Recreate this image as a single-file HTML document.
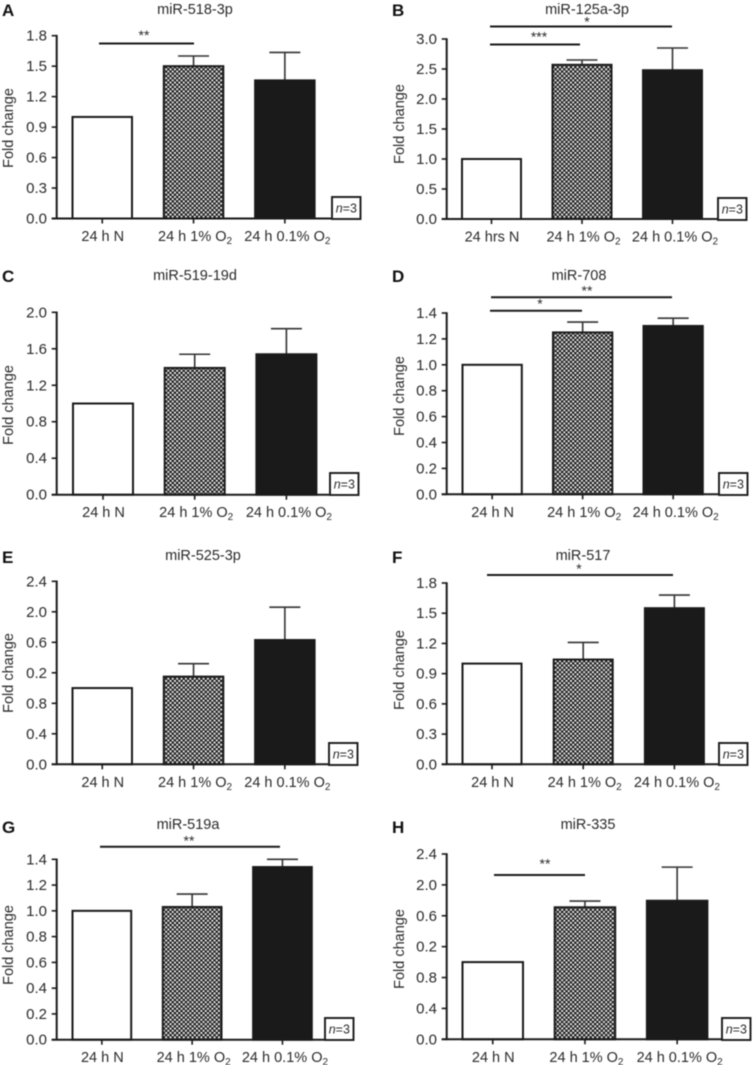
<!DOCTYPE html>
<html lang="en">
<head>
<meta charset="utf-8">
<title>miRNA fold change panels</title>
<style>
html,body{margin:0;padding:0;background:#fff;}
svg{display:block;filter:blur(0.45px);}
text{font-family:"Liberation Sans",Arial,sans-serif;fill:#2a2a2a;}
</style>
</head>
<body>
<svg id="figure" xmlns="http://www.w3.org/2000/svg" width="753" height="1065" viewBox="0 0 753 1065">
  <defs>
    <pattern id="checker" patternUnits="userSpaceOnUse" width="4.4" height="4.4">
      <rect width="4.4" height="4.4" fill="#1c1c1c"></rect>
      <rect x="0.2" y="0.2" width="1.9" height="1.9" fill="#fff"></rect>
      <rect x="2.4" y="2.4" width="1.9" height="1.9" fill="#fff"></rect>
    </pattern>
  </defs>
</svg>
<script>
// ---- Chart values, one array per panel quantity ----
const panelLetters = ["A","B","C","D","E","F","G","H"];
const panelTitles = ["miR-518-3p","miR-125a-3p","miR-519-19d","miR-708","miR-525-3p","miR-517","miR-519a","miR-335"];
const firstCategoryLabels = ["24 h N","24 hrs N","24 h N","24 h N","24 h N","24 h N","24 h N","24 h N"];
const categoryLabelStems = ["24 h 1% O","24 h 0.1% O"];
const axisMaxima = [1.8,3.0,2.0,1.4,2.4,1.8,1.4,2.4];
const means1 = [1,1,1,1,1,1,1,1];
const means2 = [1.5,2.57,1.39,1.25,1.15,1.04,1.03,1.71];
const means3 = [1.36,2.48,1.54,1.3,1.63,1.55,1.34,1.795];
const errorTops2 = [1.6,2.65,1.54,1.33,1.32,1.21,1.13,1.79];
const errorTops3 = [1.635,2.85,1.82,1.36,2.06,1.68,1.40,2.23];
const tickValues = [
  [0,0.3,0.6,0.9,1.2,1.5,1.8],
  [0,0.5,1,1.5,2,2.5,3],
  [0,0.4,0.8,1.2,1.6,2],
  [0,0.2,0.4,0.6,0.8,1,1.2,1.4],
  [0,0.4,0.8,1.2,1.6,2,2.4],
  [0,0.3,0.6,0.9,1.2,1.5,1.8],
  [0,0.2,0.4,0.6,0.8,1,1.2,1.4],
  [0,0.4,0.8,1.2,1.6,2,2.4]
];
const tickLabels = [
  ["0.0","0.3","0.6","0.9","1.2","1.5","1.8"],
  ["0.0","0.5","1.0","1.5","2.0","2.5","3.0"],
  ["0.0","0.4","0.8","1.2","1.6","2.0"],
  ["0.0","0.2","0.4","0.6","0.8","1.0","1.2","1.4"],
  ["0.0","0.4","0.8","0.2","0.6","2.0","2.4"],
  ["0.0","0.3","0.6","0.9","1.2","1.5","1.8"],
  ["0.0","0.2","0.4","0.6","0.8","1.0","1.2","1.4"],
  ["0.0","0.4","0.8","0.2","0.6","2.0","2.4"]
];
const significanceStars = [["**"],["*","***"],[],["**","*"],[],["*"],["**"],["**"]];

// ---- Layout frames (not data) ----
const frames = [
  {ax:56.7, base:218.5, top:35.7, x0:71.5, step:91.3, w:61.5, xEnd:331, nX:331, nY:196, titleX:195, titleY:14, letterX:2, letterY:16, foldY:128},
  {ax:446.7, base:219, top:39, x0:461, step:90.5, w:61, xEnd:717, nX:717, nY:197, titleX:587, titleY:14, letterX:392, letterY:16, foldY:124},
  {ax:56.7, base:494.7, top:312.3, x0:72, step:91.7, w:62, xEnd:329, nX:329, nY:472, titleX:195, titleY:280, letterX:2, letterY:282, foldY:405},
  {ax:446.7, base:494.3, top:313, x0:461.5, step:90.5, w:61.3, xEnd:718, nX:718, nY:472, titleX:579, titleY:280, letterX:392, letterY:282, foldY:396},
  {ax:56.7, base:764.3, top:581.3, x0:71.5, step:91.3, w:61.5, xEnd:328, nX:328, nY:742, titleX:203, titleY:560, letterX:2, letterY:563, foldY:673},
  {ax:446.7, base:764.3, top:583, x0:461.5, step:91.2, w:61, xEnd:718, nX:718, nY:742, titleX:583, titleY:560, letterX:392, letterY:563, foldY:670},
  {ax:56.7, base:1039.7, top:859.3, x0:71.5, step:90.3, w:60.7, xEnd:324, nX:324, nY:1017, titleX:188, titleY:829, letterX:2, letterY:833, foldY:945},
  {ax:446.7, base:1039.3, top:854, x0:461.5, step:92.2, w:62.5, xEnd:721, nX:721, nY:1017, titleX:588, titleY:829, letterX:392, letterY:833, foldY:949}
];
const bracketFrames = [
  [{x1:99,x2:194,y:43.5,sx:144,sy:34.5}],
  [{x1:490,x2:672,y:26.5,sx:587,sy:21},{x1:490,x2:580,y:44.5,sx:539,sy:36}],
  [],
  [{x1:491,x2:672,y:297.3,sx:587,sy:290},{x1:490,x2:582,y:310.7,sx:540,sy:303}],
  [],
  [{x1:487,x2:673,y:575,sx:579,sy:568}],
  [{x1:100,x2:280,y:846.7,sx:189,sy:840}],
  [{x1:494,x2:585,y:875,sx:545,sy:863}]
];

const SVG_NS = "http://www.w3.org/2000/svg";
const figure = document.getElementById("figure");
const LINE = "#1a1a1a";

function line(parent, x1, y1, x2, y2, width, color) {
  const el = document.createElementNS(SVG_NS, "line");
  el.setAttribute("x1", x1);
  el.setAttribute("y1", y1);
  el.setAttribute("x2", x2);
  el.setAttribute("y2", y2);
  el.setAttribute("stroke", color || LINE);
  el.setAttribute("stroke-width", width);
  parent.appendChild(el);
  return el;
}
function label(parent, x, y, content, size, anchor) {
  const el = document.createElementNS(SVG_NS, "text");
  el.setAttribute("x", x);
  el.setAttribute("y", y);
  el.setAttribute("font-size", size);
  el.setAttribute("text-anchor", anchor || "middle");
  el.textContent = content;
  parent.appendChild(el);
  return el;
}

function drawPanel(p) {
  const f = frames[p];
  const max = axisMaxima[p];
  const yScale = v => f.base - (v / max) * (f.base - f.top);
  const xLeft = i => f.x0 + i * f.step;
  const xCenter = i => xLeft(i) + f.w / 2;

  const g = document.createElementNS(SVG_NS, "g");
  
  
  figure.appendChild(g);

  const letter = label(g, f.letterX, f.letterY, panelLetters[p], 17, "start");
  letter.setAttribute("font-weight", "bold");
  letter.style.fill = "#111";
  
  

  const title = label(g, f.titleX, f.titleY, panelTitles[p], 14.5);
  
  

  const foldX = f.ax < 200 ? 13 : 404;
  const fold = label(g, foldX, f.foldY, "Fold change", 14.5);
  fold.setAttribute("transform", "rotate(-90 " + foldX + " " + f.foldY + ")");
  
  

  // bars
  const means = [means1[p], means2[p], means3[p]];
  const errorTops = [null, errorTops2[p], errorTops3[p]];
  const fills = ["#fff", "url(#checker)", "#1a1a1a"];
  means.forEach(function (m, i) {
    if (errorTops[i] !== null) {
      const stem = line(g, xCenter(i), yScale(m), xCenter(i), yScale(errorTops[i]), 1.6, "#333");
      
      
      const cap = line(g, xCenter(i) - 15.5, yScale(errorTops[i]), xCenter(i) + 15.5, yScale(errorTops[i]), 1.6, "#333");
      
      
    }
    const bar = document.createElementNS(SVG_NS, "rect");
    bar.setAttribute("x", xLeft(i) + 1);
    bar.setAttribute("y", yScale(m));
    bar.setAttribute("width", f.w - 2);
    bar.setAttribute("height", f.base - yScale(m));
    bar.setAttribute("fill", fills[i]);
    bar.setAttribute("stroke", "#1a1a1a");
    bar.setAttribute("stroke-width", 2);
    g.appendChild(bar);
    
    
  });

  // axes
  const yAxis = line(g, f.ax, f.top - 0.8, f.ax, f.base + 0.8, 2);
  
  
  const xAxis = line(g, f.ax - 5, f.base, f.xEnd, f.base, 2);
  
  

  tickValues[p].forEach(function (v, i) {
    const tick = line(g, f.ax - 5, yScale(v), f.ax, yScale(v), 1.6);
    
    
    const tl = label(g, f.ax - 9.7, yScale(v) + 5, tickLabels[p][i], 15, "end");
    
    
  });

  const labelShift = [0.5, 1.5, 2.5];
  [0, 1, 2].forEach(function (i) {
    const tick = line(g, xCenter(i), f.base, xCenter(i), f.base + 5, 1.6);
    
    
    const stem = i === 0 ? firstCategoryLabels[p] : categoryLabelStems[i - 1];
    const cat = label(g, xCenter(i) + labelShift[i], f.base + 22.5, stem, 14.5);
    if (i > 0) {
      const sub = document.createElementNS(SVG_NS, "tspan");
      sub.setAttribute("dy", "3");
      sub.setAttribute("font-size", "10");
      sub.textContent = "2";
      cat.appendChild(sub);
    }
    
    
  });

  // significance brackets
  bracketFrames[p].forEach(function (b, i) {
    const bracket = line(g, b.x1, b.y, b.x2, b.y, 2);
    
    
    const stars = label(g, b.sx, b.sy + 5.5, significanceStars[p][i], 14);
    
    
  });

  // n=3 box
  const box = document.createElementNS(SVG_NS, "rect");
  box.setAttribute("x", f.nX + 1);
  box.setAttribute("y", f.nY + 1);
  box.setAttribute("width", 28.5);
  box.setAttribute("height", 22);
  box.setAttribute("fill", "#fff");
  box.setAttribute("stroke", "#1a1a1a");
  box.setAttribute("stroke-width", 1.9);
  g.appendChild(box);
  
  

  const nText = label(g, f.nX + 15.3, f.nY + 16.5, "", 12.5);
  const nItalic = document.createElementNS(SVG_NS, "tspan");
  nItalic.setAttribute("font-style", "italic");
  nItalic.textContent = "n";
  nText.appendChild(nItalic);
  nText.appendChild(document.createTextNode("=3"));
  
  
}

panelLetters.forEach(function (_, p) { drawPanel(p); });
</script>
</body>
</html>
